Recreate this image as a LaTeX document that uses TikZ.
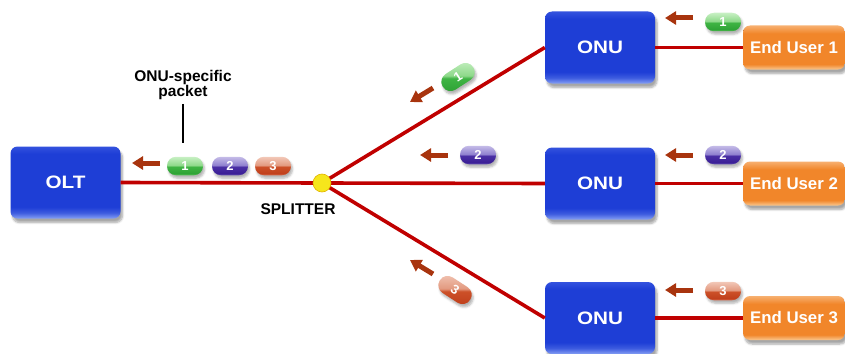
\documentclass[tikz,border=0pt]{standalone}
\usepackage{fontspec}
\setmainfont{Liberation Sans}
\newfontfamily\boxfont[FakeStretch=1.15]{Liberation Sans}
\usetikzlibrary{shadows.blur,arrows.meta}

\definecolor{fiber}{HTML}{C00000}
\definecolor{flowc}{HTML}{A8340E}
\definecolor{bluelo}{HTML}{86A0F4}
\definecolor{bluemid}{HTML}{1E3ED6}
\definecolor{bluetop}{HTML}{3352DE}
\definecolor{orlo}{HTML}{FAC890}
\definecolor{ormid}{HTML}{F1862A}
\definecolor{ortop}{HTML}{F7B070}
\definecolor{splitfill}{HTML}{F6E61C}
\definecolor{splitedge}{HTML}{E2B400}
% packet colours: rim, dark, mid, light, top
\definecolor{grA}{HTML}{5CC85F}\definecolor{grB}{HTML}{2FA336}\definecolor{grC}{HTML}{3FB444}
\definecolor{grD}{HTML}{8ED98A}\definecolor{grE}{HTML}{C8F0C4}
\definecolor{puA}{HTML}{6A58B8}\definecolor{puB}{HTML}{3B1F96}\definecolor{puC}{HTML}{4A2FA5}
\definecolor{puD}{HTML}{8F80CF}\definecolor{puE}{HTML}{C5BCE8}
\definecolor{rdA}{HTML}{E07050}\definecolor{rdB}{HTML}{C0401C}\definecolor{rdC}{HTML}{CC5028}
\definecolor{rdD}{HTML}{E39A80}\definecolor{rdE}{HTML}{F2C8B8}

% glossy box shadings (visible range 25bp..75bp, bottom to top)
\pgfdeclareverticalshading{onushade}{100bp}{
  color(0bp)=(bluelo); color(25bp)=(bluelo); color(29bp)=(bluemid!70!bluelo);
  color(33bp)=(bluemid); color(70bp)=(bluemid); color(75bp)=(bluetop); color(100bp)=(bluetop)}
\pgfdeclareverticalshading{usershade}{100bp}{
  color(0bp)=(orlo); color(25bp)=(orlo); color(31bp)=(ormid);
  color(66bp)=(ormid); color(75bp)=(ortop); color(100bp)=(ortop)}
% glossy packet shadings
\pgfdeclareverticalshading{pillgreen}{100bp}{
  color(0bp)=(grA); color(25bp)=(grA); color(30bp)=(grB);
  color(48bp)=(grC); color(52bp)=(grD); color(75bp)=(grE); color(100bp)=(grE)}
\pgfdeclareverticalshading{pillpurple}{100bp}{
  color(0bp)=(puA); color(25bp)=(puA); color(30bp)=(puB);
  color(48bp)=(puC); color(52bp)=(puD); color(75bp)=(puE); color(100bp)=(puE)}
\pgfdeclareverticalshading{pillred}{100bp}{
  color(0bp)=(rdA); color(25bp)=(rdA); color(30bp)=(rdB);
  color(48bp)=(rdC); color(52bp)=(rdD); color(75bp)=(rdE); color(100bp)=(rdE)}

\begin{document}
\begin{tikzpicture}[x=1pt,y=-1pt,
  unit/.style={rounded corners=7pt, shading=onushade, text=white,
    font=\boxfont\bfseries\fontsize{18}{20}\selectfont, minimum width=110pt, minimum height=72pt,
    inner sep=0pt,
    blur shadow={shadow xshift=2pt, shadow yshift=-4pt, shadow blur steps=6, shadow opacity=35}},
  user/.style={rounded corners=7pt, shading=usershade, text=white,
    font=\bfseries\fontsize{16.8}{18}\selectfont, minimum width=102pt, minimum height=44pt,
    inner sep=0pt,
    blur shadow={shadow xshift=2pt, shadow yshift=-4pt, shadow blur steps=6, shadow opacity=35}},
  pkt/.style={rounded corners=9pt, minimum width=36pt, minimum height=18.5pt,
    inner sep=0pt, text=white, font=\bfseries\fontsize{13}{13}\selectfont,
    blur shadow={shadow xshift=1.5pt, shadow yshift=-3pt, shadow blur steps=4, shadow opacity=30}},
  g/.style={pkt, shading=pillgreen},
  v/.style={pkt, shading=pillpurple},
  r/.style={pkt, shading=pillred},
  flow/.style={line width=5pt, draw=flowc, -{Triangle[length=11pt,width=13pt]}},
  fiberline/.style={draw=fiber, line width=3.6pt},
  caption/.style={font=\bfseries\fontsize{15.5}{15}\selectfont, align=center, inner sep=0pt}
]
\useasboundingbox (0,0) rectangle (845,353);

% equipment
\node[unit] (olt) at (65.5,182.5) {OLT};
\node[unit] (onu1) at (600,47.5) {ONU};
\node[unit] (onu2) at (600,183.5) {ONU};
\node[unit] (onu3) at (600,318) {ONU};
\node[user] (eu1) at (794,47.5) {End User 1};
\node[user] (eu2) at (794,183.5) {End User 2};
\node[user] (eu3) at (794,318) {End User 3};
\coordinate (splitc) at (322,183);

% fibre plant
\draw[fiberline] (olt.east) -- (splitc);
\draw[fiberline] (splitc) -- (onu1.west);
\draw[fiberline] (splitc) -- (onu2.west);
\draw[fiberline] (splitc) -- (onu3.west);
\draw[fiberline] (onu1.east) -- (eu1.west);
\draw[fiberline] (onu2.east) -- (eu2.west);
\draw[fiberline] (onu3.east) -- (eu3.west);

% passive splitter on top of the fibre junction
\node[circle, fill=splitfill, draw=splitedge, line width=0.6pt,
      minimum size=18pt, inner sep=0pt] (split) at (splitc) {};

% labels
\node[caption] (splitlbl) at (298,209) {SPLITTER};
\node[caption] (pktlbl) at (183,85) {ONU-specific\\packet};
\coordinate (pktmark) at (183,143);
\draw[line width=2.5pt] (pktlbl.south) ++(0,4) -- (pktmark);

% packets on the feeder
\node[g] (a1) at (185,166) {1};
\node[v] (a2) at (230,166) {2};
\node[r] (a3) at (273,166) {3};
\draw[flow] (160,163) -- (132,163);

% packets on the branches
\node[g, rotate=33] (b1) at (458,77) {1};
\node[v] (b2) at (478,155) {2};
\node[r, rotate=-33] (b3) at (455,290) {3};
\draw[flow] (433,88) -- (410,102);
\draw[flow] (448,155) -- (420,155);
\draw[flow] (433,274) -- (410,260);

% packets from the end users
\node[g] (c1) at (723,22) {1};
\node[v] (c2) at (723,155) {2};
\node[r] (c3) at (723,291) {3};
\draw[flow] (693,18) -- (665,18);
\draw[flow] (693,155) -- (665,155);
\draw[flow] (693,290) -- (665,290);
\end{tikzpicture}
\end{document}
